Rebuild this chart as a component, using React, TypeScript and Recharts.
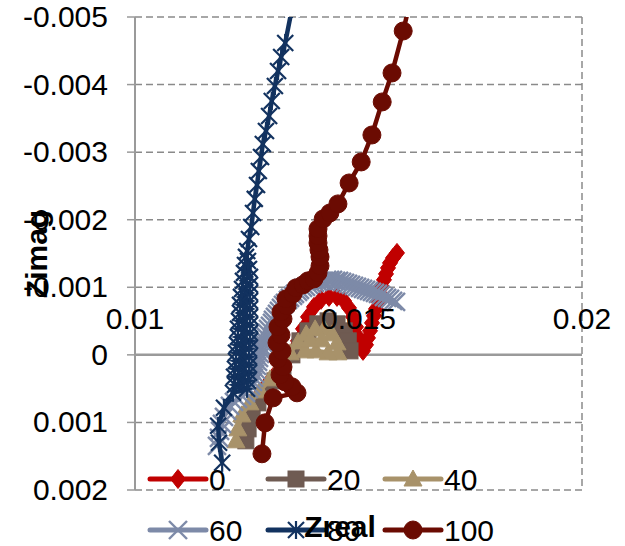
import React from 'react';
import { ScatterChart, Scatter, XAxis, YAxis, CartesianGrid, ReferenceLine } from 'recharts';

type Pt = [number, number];

const X_TICKS = [0.01, 0.015, 0.02];
const X_TICK_LABELS = ['0.01', '0.015', '0.02'];
const Y_TICKS = [-0.005, -0.004, -0.003, -0.002, -0.001, 0, 0.001, 0.002];
const Y_TICK_LABELS = ['-0.005', '-0.004', '-0.003', '-0.002', '-0.001', '0', '0.001', '0.002'];

const SERIES_NAMES = ['0', '20', '40', '60', '80', '100'];
const SERIES_COLORS = ['#C00000', '#6F5B52', '#A8926A', '#7D8AA8', '#12325F', '#6B0B02'];
const SERIES_MARKERS = ['diamond', 'square', 'triangle', 'x', 'star', 'circle'];

const SERIES_0: Pt[] = [
  [0.012707, 0.000651], [0.012841, 0.000533], [0.01302, 0.000385], [0.013199, 0.000237], [0.013378, 0.000089],
  [0.013535, -0.000059], [0.013647, -0.000207], [0.013758, -0.000385], [0.01387, -0.000562], [0.014004, -0.00071],
  [0.014161, -0.000814], [0.01434, -0.000858], [0.014519, -0.000858], [0.014675, -0.000799], [0.014787, -0.000695],
  [0.014877, -0.000562], [0.014944, -0.000414], [0.014989, -0.000266], [0.015034, -0.000133], [0.015101, -0.000059],
  [0.015168, -0.000148], [0.015212, -0.000251], [0.015257, -0.000355], [0.015302, -0.000473], [0.015346, -0.000577],
  [0.015391, -0.00068], [0.015436, -0.000799], [0.015481, -0.000902], [0.015525, -0.001006], [0.01557, -0.00111],
  [0.015615, -0.001198], [0.01566, -0.001287], [0.015705, -0.001361], [0.015772, -0.001435], [0.015861, -0.001509],
];

const SERIES_20: Pt[] = [
  [0.01248, 0.001272], [0.01253, 0.001095], [0.01262, 0.000902], [0.01275, 0.00071], [0.01293, 0.000562],
  [0.01313, 0.000385], [0.01331, 0.000207], [0.01351, 0.0], [0.01369, -0.000207], [0.01387, -0.000355],
  [0.01409, -0.000459], [0.01432, -0.000503], [0.01452, -0.000459], [0.01468, -0.000355], [0.01477, -0.000207],
  [0.01481, -0.000059],
];

const SERIES_40: Pt[] = [
  [0.01226, 0.001272], [0.0123, 0.001095], [0.01239, 0.000888], [0.01257, 0.00071], [0.0128, 0.000533],
  [0.01302, 0.000355], [0.01324, 0.000163], [0.01347, -0.00003], [0.01365, -0.000192], [0.01383, -0.000311],
  [0.01403, -0.000385], [0.01423, -0.000385], [0.01441, -0.000311], [0.01452, -0.000178], [0.01454, -0.00003],
  [0.01432, -0.00003], [0.01405, -0.000059], [0.0138, -0.000059], [0.01392, -0.000222], [0.01418, -0.000222],
];

const SERIES_60: Pt[] = [
  [0.011834, 0.001346], [0.011879, 0.001228], [0.011902, 0.001124], [0.011946, 0.001021], [0.011991, 0.000917],
  [0.012058, 0.000828], [0.012125, 0.000754], [0.012215, 0.000695], [0.012304, 0.000651], [0.012394, 0.000607],
  [0.012483, 0.000562], [0.01255, 0.000503], [0.012595, 0.000459], [0.01264, 0.000399], [0.012662, 0.00034],
  [0.012685, 0.000281], [0.012707, 0.000222], [0.012729, 0.000163], [0.012752, 0.000104], [0.012774, 0.000044],
  [0.012796, -0.000015], [0.012819, -0.000074], [0.012841, -0.000118], [0.012864, -0.000178], [0.012886, -0.000222],
  [0.012908, -0.000281], [0.012953, -0.000325], [0.012975, -0.000385], [0.01302, -0.000429], [0.013065, -0.000473],
  [0.013087, -0.000518], [0.013132, -0.000562], [0.013177, -0.000607], [0.013221, -0.000651], [0.013266, -0.000695],
  [0.013311, -0.00074], [0.013356, -0.000769], [0.013423, -0.000814], [0.013468, -0.000843], [0.013535, -0.000873],
  [0.013579, -0.000902], [0.013647, -0.000932], [0.013691, -0.000962], [0.013758, -0.000991], [0.013826, -0.001006],
  [0.013893, -0.001036], [0.01396, -0.00105], [0.014027, -0.001065], [0.014094, -0.00108], [0.014161, -0.001095],
  [0.014228, -0.001095], [0.014295, -0.00111], [0.014362, -0.00111], [0.014429, -0.00111], [0.014497, -0.001095],
  [0.014564, -0.001095], [0.014631, -0.00108], [0.014698, -0.001065], [0.014765, -0.00105], [0.014832, -0.001036],
  [0.014899, -0.001021], [0.014966, -0.001006], [0.015034, -0.000991], [0.015101, -0.000976], [0.015168, -0.000962],
  [0.015235, -0.000947], [0.015302, -0.000932], [0.015369, -0.000917], [0.015436, -0.000902], [0.015503, -0.000888],
  [0.01557, -0.000858], [0.015638, -0.000843], [0.015705, -0.000828], [0.015772, -0.000799], [0.015839, -0.000784],
];

const SERIES_80: Pt[] = [
  [0.01195, 0.001598], [0.01188, 0.001302], [0.01186, 0.00105], [0.01199, 0.000784], [0.012192, 0.000562],
  [0.012506, 0.000503], [0.012237, 0.000444], [0.012528, 0.000385], [0.012215, 0.000325], [0.01255, 0.000266],
  [0.012237, 0.000207], [0.01255, 0.000148], [0.01226, 0.000089], [0.01255, 0.00003], [0.01226, -0.00003],
  [0.01255, -0.000089], [0.012282, -0.000148], [0.012573, -0.000207], [0.012304, -0.000266], [0.012573, -0.000325],
  [0.012304, -0.000385], [0.012573, -0.000444], [0.012327, -0.000503], [0.012573, -0.000562], [0.012349, -0.000621],
  [0.012573, -0.00068], [0.012349, -0.00074], [0.012573, -0.000799], [0.012371, -0.000858], [0.012573, -0.000917],
  [0.012394, -0.000976], [0.012573, -0.001036], [0.012416, -0.001095], [0.012573, -0.001154], [0.012438, -0.001213],
  [0.01255, -0.001272], [0.012461, -0.001331], [0.012528, -0.00139], [0.012483, -0.00145],
  [0.01251, -0.001538], [0.01255, -0.001716], [0.0126, -0.001893], [0.01264, -0.0021],
  [0.01268, -0.002308], [0.01273, -0.002515], [0.01277, -0.002722], [0.01282, -0.002929], [0.01286, -0.003121],
  [0.01293, -0.003314], [0.013, -0.003536], [0.01306, -0.003757], [0.01313, -0.003979], [0.0132, -0.004201],
  [0.01327, -0.004408], [0.01336, -0.004615], [0.01351, -0.005118],
];

const SERIES_100: Pt[] = [
  [0.01284, 0.001464], [0.01291, 0.001006], [0.01309, 0.000636], [0.013624, 0.000562], [0.013512, 0.000473],
  [0.013356, 0.000399], [0.013244, 0.000296], [0.013311, 0.000178], [0.013199, 0.000059], [0.013288, -0.000059],
  [0.013177, -0.000178], [0.013266, -0.000296], [0.013199, -0.000414], [0.013311, -0.000533], [0.013266, -0.000636],
  [0.0134, -0.000725], [0.013378, -0.000828], [0.013535, -0.000902], [0.013602, -0.000991], [0.013758, -0.001036],
  [0.01387, -0.001095], [0.014004, -0.001124], [0.014094, -0.001213], [0.014139, -0.001317], [0.014139, -0.00145],
  [0.014116, -0.001553], [0.014094, -0.001657], [0.014094, -0.00176], [0.014094, -0.001864],
  [0.01421, -0.002012], [0.01436, -0.0021], [0.01454, -0.002234], [0.01479, -0.002544], [0.01506, -0.002855],
  [0.0153, -0.003254], [0.01553, -0.003743], [0.01575, -0.004172], [0.016, -0.004793], [0.0162, -0.005355],
];

const ALL_SERIES: Pt[][] = [SERIES_0, SERIES_20, SERIES_40, SERIES_60, SERIES_80, SERIES_100];

const FONT = 'Liberation Sans, Arial, sans-serif';
const GRID_COLOR = '#8a8a8a';
const AXIS_COLOR = '#9a9a9a';
const CHART_MARGIN = { top: 17, right: 43, left: 0, bottom: 26 };

function Marker({ kind, cx, cy, color }: { kind: string; cx: number; cy: number; color: string }) {
  if (cx == null || cy == null || isNaN(cx) || isNaN(cy)) return null;
  switch (kind) {
    case 'diamond':
      return <polygon points={`${cx},${cy - 9.5} ${cx + 7.5},${cy} ${cx},${cy + 9.5} ${cx - 7.5},${cy}`} fill={color} stroke={color} strokeWidth={1} />;
    case 'square':
      return <rect x={cx - 8} y={cy - 8} width={16} height={16} fill={color} stroke={color} strokeWidth={1} />;
    case 'triangle':
      return <polygon points={`${cx},${cy - 9} ${cx + 9},${cy + 7} ${cx - 9},${cy + 7}`} fill={color} stroke={color} strokeWidth={1} />;
    case 'x':
      return (
        <g stroke={color} strokeWidth={2.4}>
          <line x1={cx - 9} y1={cy - 9} x2={cx + 9} y2={cy + 9} />
          <line x1={cx - 9} y1={cy + 9} x2={cx + 9} y2={cy - 9} />
        </g>
      );
    case 'star':
      return (
        <g stroke={color} strokeWidth={2.2}>
          <line x1={cx - 8} y1={cy - 8} x2={cx + 8} y2={cy + 8} />
          <line x1={cx - 8} y1={cy + 8} x2={cx + 8} y2={cy - 8} />
          <line x1={cx} y1={cy - 9} x2={cx} y2={cy + 9} />
        </g>
      );
    default:
      return <circle cx={cx} cy={cy} r={9} fill={color} stroke={color} strokeWidth={1} />;
  }
}

const XTick = (props: any) => {
  const { x, index } = props;
  return (
    <text x={x} y={329} textAnchor="middle" fontSize={30} fontFamily={FONT} fill="#000">
      {X_TICK_LABELS[index]}
    </text>
  );
};

const YTick = (props: any) => {
  const { x, y, index } = props;
  return (
    <text x={x} y={y} dy={10} textAnchor="end" fontSize={30} fontFamily={FONT} fill="#000">
      {Y_TICK_LABELS[index]}
    </text>
  );
};

const LEGEND_COLS = [150, 268, 385];
const LEGEND_ROWS = [479, 530];

function LegendOverlay() {
  return (
    <svg width={625} height={546} style={{ position: 'absolute', left: 0, top: 0, pointerEvents: 'none' }}>
      {SERIES_NAMES.map((name, i) => {
        const x0 = LEGEND_COLS[i % 3];
        const y = LEGEND_ROWS[Math.floor(i / 3)];
        const color = SERIES_COLORS[i];
        return (
          <g key={name}>
            <line x1={x0} y1={y} x2={x0 + 56} y2={y} stroke={color} strokeWidth={5} strokeLinecap="round" />
            <Marker kind={SERIES_MARKERS[i]} cx={x0 + 28} cy={y} color={color} />
            <text x={x0 + 59} y={y + 10.5} fontSize={30} fontFamily={FONT} fill="#000">{name}</text>
          </g>
        );
      })}
      <text x={340} y={537} textAnchor="middle" fontSize={30} fontWeight="bold" fontFamily={FONT} fill="#000">Zreal</text>
      <text x={36} y={254} transform="rotate(-90 36 254)" textAnchor="middle" dominantBaseline="central" fontSize={30} fontWeight="bold" fontFamily={FONT} fill="#000">Zimag</text>
    </svg>
  );
}

export default function App() {
  return (
    <div style={{ position: 'absolute', left: 0, top: 0, width: 625, height: 546, background: '#fff' }}>
      <ScatterChart width={625} height={546} margin={CHART_MARGIN}>
        <CartesianGrid stroke={GRID_COLOR} strokeDasharray="7 4" strokeWidth={1.5} />
        <XAxis
          type="number"
          dataKey="x"
          domain={[0.01, 0.02]}
          ticks={X_TICKS}
          allowDataOverflow
          axisLine={false}
          tickLine={false}
          height={30}
          tick={false}
        />
        <YAxis
          type="number"
          dataKey="y"
          domain={[-0.005, 0.002]}
          ticks={Y_TICKS}
          reversed
          allowDataOverflow
          width={135}
          axisLine={{ stroke: AXIS_COLOR, strokeWidth: 2 }}
          tickLine={{ stroke: AXIS_COLOR, strokeWidth: 1.5 }}
          tickSize={8}
          tickMargin={19}
          tick={<YTick />}
        />
        <ReferenceLine y={0} stroke={AXIS_COLOR} strokeWidth={2.5} />
        {ALL_SERIES.map((pts, i) => (
          <Scatter
            key={SERIES_NAMES[i]}
            name={SERIES_NAMES[i]}
            data={pts.map(([x, y]) => ({ x, y }))}
            fill={SERIES_COLORS[i]}
            line={{ stroke: SERIES_COLORS[i], strokeWidth: 4.5 }}
            isAnimationActive={false}
            shape={(p: any) => <Marker kind={SERIES_MARKERS[i]} cx={p.cx} cy={p.cy} color={SERIES_COLORS[i]} />}
          />
        ))}
      </ScatterChart>
      <div style={{ position: 'absolute', left: 0, top: 0, pointerEvents: 'none' }}>
        <ScatterChart width={625} height={546} margin={CHART_MARGIN}>
          <XAxis
            type="number"
            dataKey="x"
            domain={[0.01, 0.02]}
            ticks={X_TICKS}
            allowDataOverflow
            axisLine={false}
            tickLine={false}
            height={30}
            tick={<XTick />}
          />
          <YAxis
            type="number"
            dataKey="y"
            domain={[-0.005, 0.002]}
            ticks={Y_TICKS}
            reversed
            width={135}
            axisLine={false}
            tickLine={false}
            tick={false}
          />
          <Scatter data={[]} isAnimationActive={false} />
        </ScatterChart>
      </div>
      <LegendOverlay />
    </div>
  );
}
